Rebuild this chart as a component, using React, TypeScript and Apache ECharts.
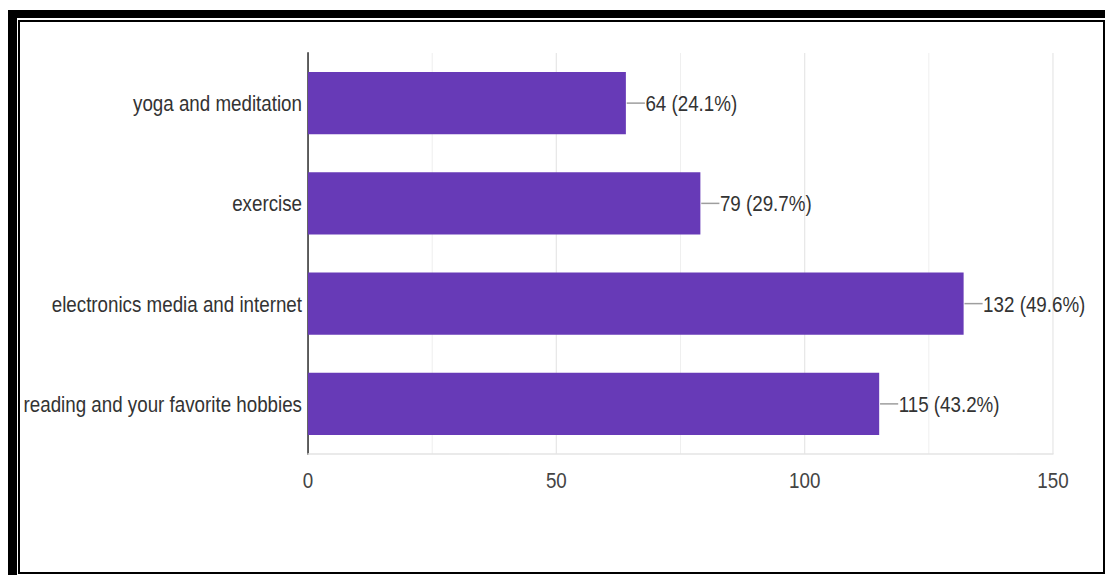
import React, { useEffect, useRef } from "react";
import * as echarts from "echarts";

const categories = [
  "yoga and meditation",
  "exercise",
  "electronics media and internet",
  "reading and your favorite hobbies",
];
const counts = [64, 79, 132, 115];
const percents = ["24.1", "29.7", "49.6", "43.2"];
const axisMin = 0;
const axisMax = 150;
const axisStep = 50;

const FONT = "'Liberation Sans', Arial, sans-serif";
const PAGE_W = 1105;
const PAGE_H = 575;
// the reference is horizontally condensed; draw wider and squeeze
const SQUEEZE = 0.8533;
const CHART_W = Math.round(PAGE_W / SQUEEZE);

export default function App() {
  const ref = useRef<HTMLDivElement>(null);

  useEffect(() => {
    if (!ref.current) return;
    const chart = echarts.init(ref.current, null, { renderer: "svg" });
    const u = (px: number) => px / SQUEEZE;
    chart.setOption({
      animation: false,
      backgroundColor: "transparent",
      grid: {
        left: u(308),
        top: 53,
        right: u(52),
        bottom: 121,
        containLabel: false,
        outerBoundsMode: "none",
      },
      xAxis: {
        type: "value",
        min: axisMin,
        max: axisMax,
        interval: axisStep,
        axisLine: { show: true, lineStyle: { color: "#e4e4e4", width: 1.5 } },
        axisTick: { show: false },
        splitLine: { show: true, lineStyle: { color: "#e8e8e8", width: 1.5 } },
        minorTick: { show: false, splitNumber: 2 },
        minorSplitLine: { show: true, lineStyle: { color: "#efefef", width: 1.2 } },
        axisLabel: {
          color: "#444",
          fontSize: 22,
          fontFamily: FONT,
          margin: 15,
        },
      },
      yAxis: {
        type: "category",
        inverse: true,
        data: categories,
        axisLine: { show: true, lineStyle: { color: "#555", width: 2.2 } },
        axisTick: { show: false },
        splitLine: { show: false },
        axisLabel: {
          color: "#333",
          fontSize: 22,
          fontFamily: FONT,
          margin: u(6),
        },
      },
      series: [
        {
          type: "bar",
          data: counts,
          barCategoryGap: "38%",
          itemStyle: { color: "#673ab7" },
        },
        {
          type: "custom",
          data: counts.map((v, i) => [v, i]),
          encode: { x: 0, y: 1 },
          z: 5,
          renderItem: (params: any, api: any) => {
            const v = api.value(0);
            const idx = api.value(1);
            const p = api.coord([v, idx]);
            const i = params.dataIndex;
            return {
              type: "group",
              children: [
                {
                  type: "line",
                  shape: { x1: p[0] + 1, y1: p[1], x2: p[0] + u(19), y2: p[1] },
                  style: { stroke: "#9e9e9e", lineWidth: 1.5 },
                },
                {
                  type: "text",
                  x: p[0] + u(19.5),
                  y: p[1],
                  style: {
                    text: `${counts[i]} (${percents[i]}%)`,
                    fill: "#333",
                    fontSize: 22,
                    fontFamily: FONT,
                    align: "left",
                    verticalAlign: "middle",
                  },
                },
              ],
            };
          },
        },
      ],
    });
    return () => chart.dispose();
  }, []);

  return (
    <div
      style={{
        position: "absolute",
        left: 0,
        top: 0,
        width: PAGE_W,
        height: PAGE_H,
        background: "#fff",
        overflow: "hidden",
      }}
    >
      <div style={{ position: "absolute", left: 8, top: 10, width: 1097, height: 8, background: "#000" }} />
      <div style={{ position: "absolute", left: 8, top: 10, width: 9, height: 565, background: "#000" }} />
      <div
        style={{
          position: "absolute",
          left: 18,
          top: 20,
          width: 1087,
          height: 554,
          border: "2px solid #000",
          boxSizing: "border-box",
        }}
      />
      <div
        ref={ref}
        style={{
          position: "absolute",
          left: 0,
          top: 0,
          width: CHART_W,
          height: PAGE_H,
          transform: `scaleX(${SQUEEZE})`,
          transformOrigin: "0 0",
        }}
      />
    </div>
  );
}
